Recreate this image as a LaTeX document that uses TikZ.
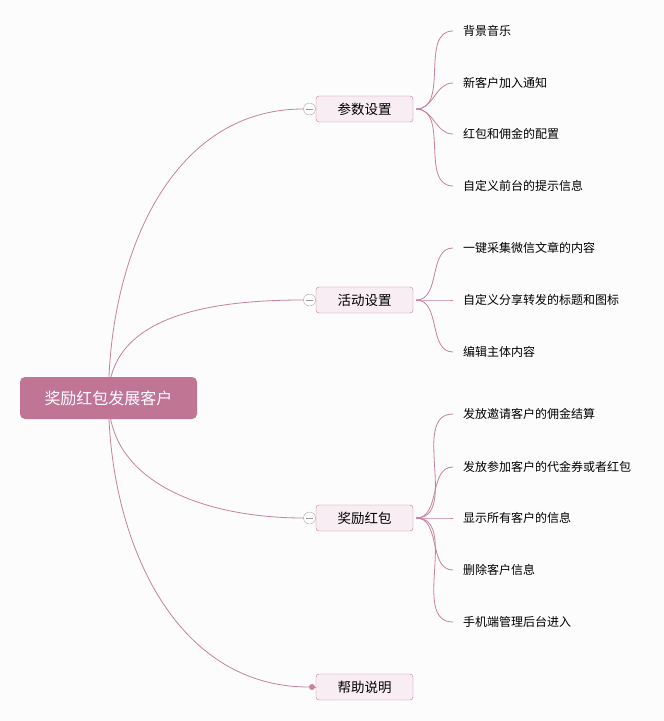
\documentclass[tikz,border=0pt]{standalone}
\usepackage{fontspec}
\setmainfont{Noto Sans CJK SC}
\definecolor{rootpink}{HTML}{C07595}
\definecolor{linepink}{HTML}{C8819F}
\definecolor{boxfill}{HTML}{F7EDF2}
\definecolor{boxline}{HTML}{C97A9C}
\definecolor{paper}{HTML}{FCFCFC}
\tikzset{
  root/.style={fill=rootpink, text=white, rounded corners=5pt,
    minimum width=177pt, minimum height=42pt, font=\fontsize{16}{18}\selectfont},
  topic/.style={draw=boxline, fill=boxfill, rounded corners=3pt,
    minimum width=97pt, minimum height=26pt, font=\fontsize{13.5}{16}\selectfont},
  leaf/.style={anchor=west, inner xsep=10pt, inner ysep=2pt, font=\fontsize{12}{14}\selectfont},
  fold/.style={circle, draw=gray!70, fill=white, minimum size=12pt, inner sep=0pt,
    path picture={\draw[gray!80] ([xshift=-3.5pt]path picture bounding box.center)
      -- ([xshift=3.5pt]path picture bounding box.center);}},
  knob/.style={circle, fill=linepink, minimum size=6pt, inner sep=0pt},
  link/.style={draw=linepink, line width=0.8pt},
}

\begin{document}
\begin{tikzpicture}[x=1pt,y=-1pt]
\useasboundingbox[fill=paper] (0,0) rectangle (664,721);

% main topics
\node[topic] (cs) at (364.5,109) {参数设置};
\node[topic] (hd) at (364.5,300) {活动设置};
\node[topic] (jl) at (364.5,518) {奖励红包};
\node[topic] (bz) at (364.5,687) {帮助说明};
\node[fold] (cs-f) at (309.5,109) {};
\node[fold] (hd-f) at (309.5,300) {};
\node[fold] (jl-f) at (309.5,518) {};
\node[knob] (bz-f) at (312,687) {};

% root
\draw[link] (108.5,398) to[out=90,in=180] (cs-f.west);
\draw[link] (108.5,398) to[out=90,in=180] (hd-f.west);
\draw[link] (108.5,398) to[out=-90,in=180] (jl-f.west);
\draw[link] (108.5,398) to[out=-90,in=180] (bz-f.west);
\draw[link] (bz-f) -- (bz.west);
\node[root] (root) at (108.5,398) {奖励红包发展客户};

% leaves
\foreach \y/\t [count=\i] in {31/背景音乐, 83/新客户加入通知, 134/红包和佣金的配置, 186/自定义前台的提示信息}{
  \node[leaf] (cs-\i) at (453,\y) {\t};
  \draw[link] ([xshift=3pt]cs.east) to[out=0,in=180] (cs-\i.west);
}
\foreach \y/\t [count=\i] in {248/一键采集微信文章的内容, 300/自定义分享转发的标题和图标, 352/编辑主体内容}{
  \node[leaf] (hd-\i) at (453,\y) {\t};
  \draw[link] ([xshift=3pt]hd.east) to[out=0,in=180] (hd-\i.west);
}
\foreach \y/\t [count=\i] in {414/发放邀请客户的佣金结算, 467/发放参加客户的代金券或者红包, 518/显示所有客户的信息, 570/删除客户信息, 622/手机端管理后台进入}{
  \node[leaf] (jl-\i) at (453,\y) {\t};
  \draw[link] ([xshift=3pt]jl.east) to[out=0,in=180] (jl-\i.west);
}
\end{tikzpicture}
\end{document}
